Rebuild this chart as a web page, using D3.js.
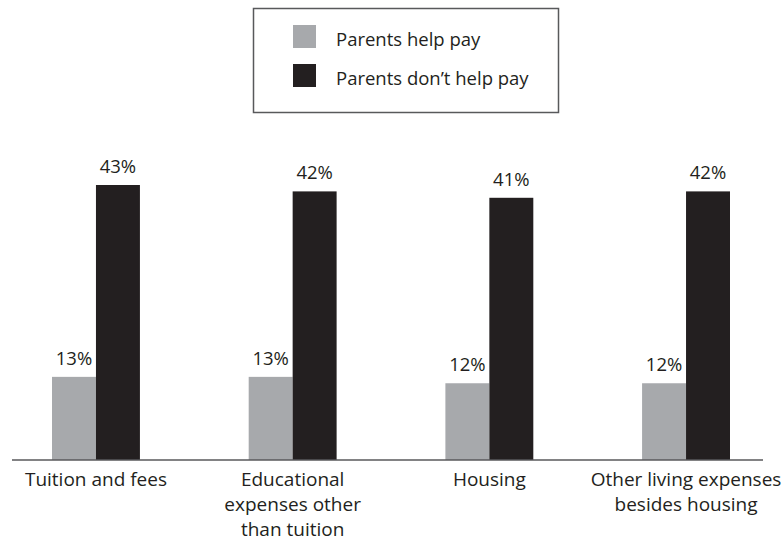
<!DOCTYPE html>
<html>
<head>
<meta charset="utf-8">
<script src="https://cdn.jsdelivr.net/npm/d3@7"></script>
<style>
  html, body { margin: 0; padding: 0; background: #fff; }
  svg { display: block; }
  text { font-family: "Open Sans", "Noto Sans", sans-serif; fill: #231f20; }
</style>
</head>
<body>
<svg id="chart" width="782" height="542"></svg>
<script>
// Share of students paying each expense, split by whether parents help
const categories = ["Tuition and fees", "Educational expenses other than tuition", "Housing", "Other living expenses besides housing"];
const categoryLines = [
  ["Tuition and fees"],
  ["Educational", "expenses other", "than tuition"],
  ["Housing"],
  ["Other living expenses", "besides housing"]
];
const seriesNames = ["Parents help pay", "Parents don\u2019t help pay"];
const helpPay = [13, 13, 12, 12];
const noHelpPay = [43, 42, 41, 42];
const seriesColors = ["#a7a9ac", "#231f20"];

const svg = d3.select("#chart");
const baseY = 460;

const x0 = d3.scaleBand()
  .domain(categories)
  .range([52, 730])
  .paddingInner(0.553)
  .paddingOuter(0);

const x1 = d3.scaleBand()
  .domain(seriesNames)
  .range([0, x0.bandwidth()]);

const y = d3.scaleLinear()
  .domain([0, 43])
  .range([baseY, 185]);

const color = d3.scaleOrdinal().domain(seriesNames).range(seriesColors);

const rows = categories.map((c, i) => ({
  category: c,
  lines: categoryLines[i],
  values: [
    { series: seriesNames[0], value: helpPay[i] },
    { series: seriesNames[1], value: noHelpPay[i] }
  ]
}));

const groups = svg.selectAll("g.group")
  .data(rows)
  .join("g")
  .attr("class", "group")
  .attr("transform", d => `translate(${x0(d.category)},0)`);

groups.selectAll("rect")
  .data(d => d.values)
  .join("rect")
  .attr("x", d => x1(d.series))
  .attr("y", d => y(d.value))
  .attr("width", x1.bandwidth())
  .attr("height", d => baseY - y(d.value))
  .attr("fill", d => color(d.series));

groups.selectAll("text.value")
  .data(d => d.values)
  .join("text")
  .attr("class", "value")
  .attr("x", d => x1(d.series) + x1.bandwidth() / 2)
  .attr("y", d => y(d.value) - 12)
  .attr("text-anchor", "middle")
  .attr("font-size", 18.5)
  .text(d => d.value + "%");

// Baseline
svg.append("line")
  .attr("x1", 12).attr("x2", 763)
  .attr("y1", baseY).attr("y2", baseY)
  .attr("stroke", "#58595b")
  .attr("stroke-width", 1.5);

// Category labels, one tspan per line
const labels = svg.selectAll("text.cat")
  .data(rows)
  .join("text")
  .attr("class", "cat")
  .attr("text-anchor", "middle")
  .attr("font-size", 19);

labels.selectAll("tspan")
  .data(d => d.lines.map(l => ({ line: l, cx: x0(d.category) + x0.bandwidth() / 2 })))
  .join("tspan")
  .attr("x", d => d.cx)
  .attr("y", (d, i) => 486 + i * 25)
  .text(d => d.line);

// Legend
const legend = svg.append("g");
legend.append("rect")
  .attr("x", 253.5).attr("y", 8.5)
  .attr("width", 305).attr("height", 104)
  .attr("fill", "none")
  .attr("stroke", "#58595b")
  .attr("stroke-width", 1.5);

const legendItems = legend.selectAll("g.item")
  .data(seriesNames)
  .join("g")
  .attr("class", "item")
  .attr("transform", (d, i) => `translate(293,${25 + i * 39})`);

legendItems.append("rect")
  .attr("width", 23).attr("height", 23)
  .attr("fill", d => color(d));

legendItems.append("text")
  .attr("x", 43)
  .attr("y", 21)
  .attr("font-size", 18.5)
  .text(d => d);
</script>
</body>
</html>
